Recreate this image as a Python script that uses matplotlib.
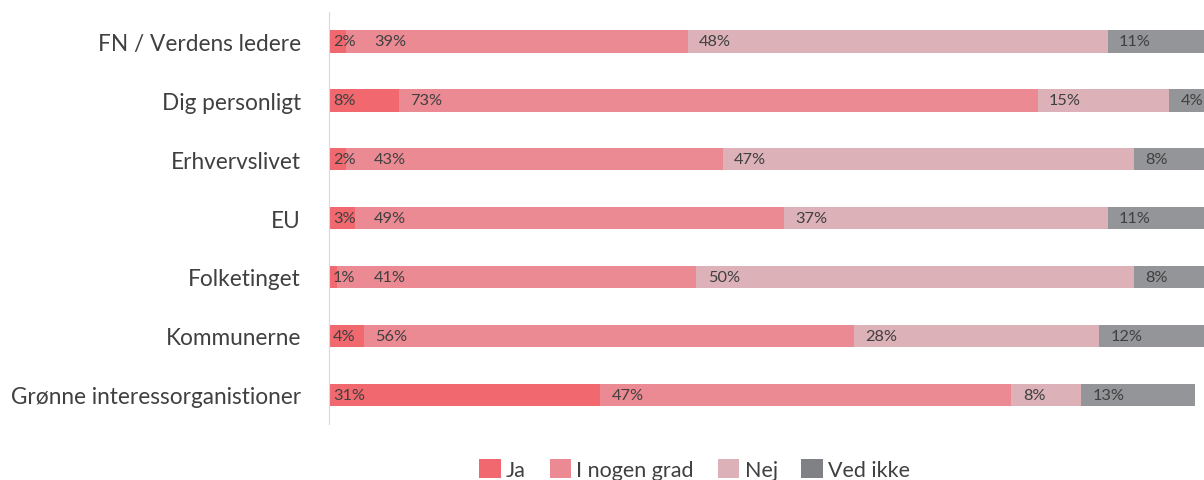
import numpy as np
import matplotlib.pyplot as plt
from matplotlib.patches import Patch

# data (percent)
categories = ['FN / Verdens ledere', 'Dig personligt', 'Erhvervslivet', 'EU',
              'Folketinget', 'Kommunerne', 'Grønne interessorganistioner']
ja = [2, 8, 2, 3, 1, 4, 31]
i_nogen_grad = [39, 73, 43, 49, 41, 56, 47]
nej = [48, 15, 47, 37, 50, 28, 8]
ved_ikke = [11, 4, 8, 11, 8, 12, 13]

series = [ja, i_nogen_grad, nej, ved_ikke]
names = ['Ja', 'I nogen grad', 'Nej', 'Ved ikke']
colors = ['#F1686F', '#EB8A92', '#DCB1B8', '#939598']

plt.rcParams['font.family'] = ['Lato', 'DejaVu Sans']
txt = '#404040'

fig = plt.figure(figsize=(12.04, 4.81), dpi=100)
ax = fig.add_axes([0.273, 0.116, 0.727, 0.857])

y = np.arange(len(categories))
left = np.zeros(len(categories))
label_end = np.full(len(categories), -10.0)
for vals, name, col in zip(series, names, colors):
    vals = np.array(vals, dtype=float)
    ax.barh(y, vals, left=left, height=0.38, color=col, label=name)
    for i, v in enumerate(vals):
        # label near segment start, kept clear of the previous label
        if left[i] > 0:
            x = max(left[i] + 1.3, label_end[i] + 1.2)
        else:
            x = 0.5
        ax.text(x, y[i], f'{int(v)}%', va='center', ha='left',
                fontsize=11.8, color=txt)
        label_end[i] = x + 3.5
    left += vals

ax.set_xlim(0, 100)
ax.set_ylim(len(categories) - 0.5, -0.5)
ax.set_yticks(y)
ax.set_yticklabels(categories, fontsize=16.3, color=txt)
ax.tick_params(axis='y', length=0, pad=20)
ax.set_xticks([])
for s in ['top', 'right', 'bottom']:
    ax.spines[s].set_visible(False)
ax.spines['left'].set_color('#D9D9D9')

handles = [Patch(facecolor=c, label=n) for c, n in zip(colors, names)]
handles[3] = Patch(facecolor='#808184', label='Ved ikke')
fig.legend(handles=handles, loc='center', bbox_to_anchor=(0.577, 0.022),
           ncol=4, frameon=False, fontsize=15.5, handlelength=1.0,
           handleheight=1.0, handletextpad=0.25, columnspacing=1.1,
           labelcolor=txt)

fig.savefig('out.png', dpi=100)
